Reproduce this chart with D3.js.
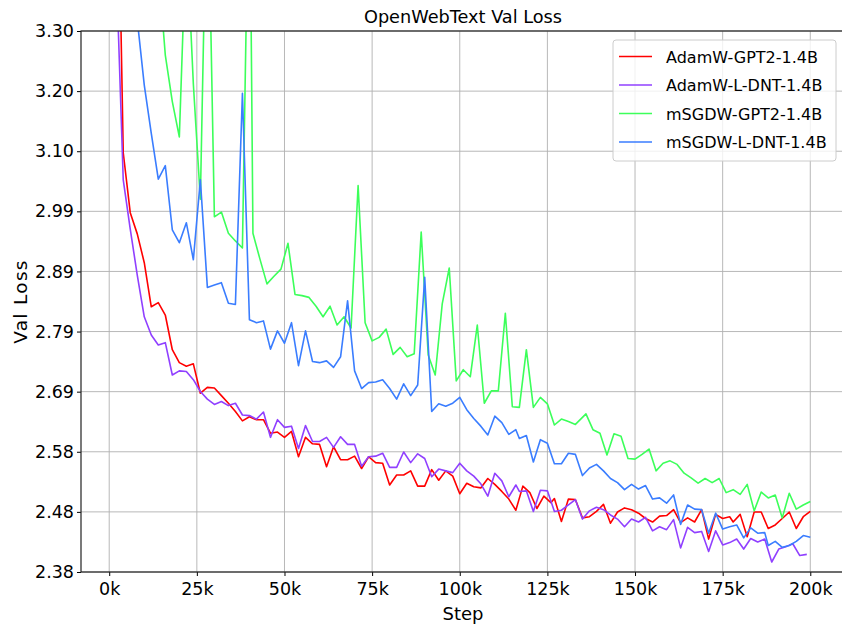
<!DOCTYPE html>
<html><head><meta charset="utf-8">
<script src="https://cdn.jsdelivr.net/npm/d3@7"></script>
<style>
body{margin:0;background:#fff;}
svg{display:block;font-family:"DejaVu Sans",sans-serif;}
</style>
</head><body>
<svg id="chart" width="842" height="627"></svg>
<script>
// ---------------- data ----------------
const seriesNames = ["AdamW-GPT2-1.4B", "AdamW-L-DNT-1.4B", "mSGDW-GPT2-1.4B", "mSGDW-L-DNT-1.4B"];
const seriesColors = ["#ff0000", "#9040ff", "#3cff5a", "#3a7dff"];
const xTicks = [0, 25, 50, 75, 100, 125, 150, 175, 200];           // steps in k
const yTickLabels = ["2.38","2.48","2.58","2.69","2.79","2.89","2.99","3.10","3.20","3.30"];
const yMin = 2.38, yMax = 3.30;

function stepRange(a, b, s) { return d3.range(a, b + 0.001, s); }

// AdamW-GPT2-1.4B (eval steps in k)
const redSteps = [].concat(stepRange(2, 126, 2), stepRange(127, 177, 2), stepRange(178, 200, 2));
const redLoss = [
  3.75, 3.093, 2.991, 2.955, 2.906, 2.831, 2.838, 2.817, 2.758, 2.736,
  2.730, 2.734, 2.684, 2.694, 2.693, 2.680, 2.667, 2.653, 2.637, 2.644,
  2.639, 2.639, 2.616, 2.618, 2.609, 2.619, 2.576, 2.609, 2.598, 2.597,
  2.559, 2.593, 2.571, 2.571, 2.577, 2.556, 2.576, 2.566, 2.565, 2.528,
  2.545, 2.545, 2.552, 2.526, 2.526, 2.554, 2.536, 2.552, 2.543, 2.513,
  2.531, 2.525, 2.523, 2.539, 2.529, 2.517, 2.504, 2.485, 2.526, 2.515,
  2.488, 2.509, 2.498,
  2.505, 2.466, 2.504, 2.503, 2.472, 2.474, 2.483, 2.495, 2.463, 2.482,
  2.489, 2.486, 2.480, 2.471, 2.465, 2.475, 2.476, 2.486, 2.464, 2.472,
  2.465, 2.486, 2.436, 2.478, 2.471, 2.474,
  2.465, 2.478, 2.440, 2.482, 2.482, 2.454, 2.460, 2.471, 2.482, 2.454, 2.474, 2.483
];

// AdamW-L-DNT-1.4B
const purpleSteps = [].concat(stepRange(2, 116, 2), stepRange(117, 199, 2));
const purpleLoss = [
  3.41, 3.047, 2.963, 2.885, 2.814, 2.783, 2.766, 2.770, 2.715, 2.722,
  2.721, 2.707, 2.687, 2.674, 2.665, 2.670, 2.663, 2.667, 2.647, 2.646,
  2.640, 2.652, 2.609, 2.639, 2.626, 2.628, 2.590, 2.629, 2.602, 2.602,
  2.609, 2.592, 2.610, 2.597, 2.597, 2.560, 2.576, 2.577, 2.582, 2.558,
  2.558, 2.584, 2.566, 2.581, 2.573, 2.542, 2.555, 2.552, 2.549, 2.565,
  2.552, 2.543, 2.530, 2.509, 2.548, 2.535, 2.508, 2.528,
  2.517, 2.518, 2.483, 2.519, 2.518, 2.483, 2.485, 2.494, 2.503, 2.470,
  2.484, 2.490, 2.486, 2.477, 2.470, 2.457, 2.470, 2.465, 2.473, 2.450,
  2.457, 2.452, 2.469, 2.421, 2.456, 2.447, 2.449, 2.415, 2.450, 2.426,
  2.430, 2.436, 2.419, 2.437, 2.431, 2.436, 2.397, 2.419, 2.423, 2.428,
  2.408, 2.410
];

// mSGDW-GPT2-1.4B
const greenSteps = [].concat(stepRange(10, 40, 2), stepRange(41, 133, 2), stepRange(136, 200, 2));
const greenLoss = [
  3.90, 3.65, 3.41, 3.259, 3.180, 3.120, 3.47, 3.21, 3.014, 3.62,
  2.984, 2.992, 2.956, 2.943, 2.931, 3.65,
  2.956, 2.912, 2.870, 2.883, 2.895, 2.939, 2.852, 2.850, 2.847, 2.832,
  2.814, 2.832, 2.800, 2.814, 2.795, 3.037, 2.804, 2.773, 2.779, 2.793,
  2.750, 2.762, 2.746, 2.751, 2.958, 2.749, 2.715, 2.836, 2.897, 2.705,
  2.724, 2.712, 2.800, 2.667, 2.688, 2.688, 2.820, 2.661, 2.660, 2.758,
  2.660, 2.677, 2.666, 2.630, 2.640, 2.636, 2.631,
  2.649, 2.622, 2.616, 2.579, 2.615, 2.611, 2.573, 2.572, 2.580, 2.589,
  2.552, 2.565, 2.569, 2.563, 2.548, 2.540, 2.531, 2.539, 2.532, 2.539,
  2.515, 2.520, 2.512, 2.529, 2.484, 2.516, 2.506, 2.511, 2.472, 2.514,
  2.487, 2.494, 2.500
];

// mSGDW-L-DNT-1.4B
const blueSteps = [].concat(stepRange(2, 116, 2), stepRange(117, 187, 2), stepRange(188, 200, 2));
const blueLoss = [
  3.95, 3.75, 3.55, 3.319, 3.208, 3.126, 3.048, 3.071, 2.962, 2.940,
  2.974, 2.911, 3.047, 2.864, 2.868, 2.872, 2.837, 2.835, 3.194, 2.809,
  2.804, 2.807, 2.759, 2.790, 2.769, 2.804, 2.731, 2.790, 2.738, 2.736,
  2.739, 2.728, 2.746, 2.841, 2.722, 2.692, 2.702, 2.703, 2.707, 2.692,
  2.674, 2.700, 2.680, 2.698, 2.881, 2.653, 2.666, 2.662, 2.667, 2.677,
  2.656, 2.641, 2.628, 2.613, 2.645, 2.634, 2.614, 2.622,
  2.607, 2.612, 2.567, 2.605, 2.599, 2.564, 2.564, 2.582, 2.580, 2.544,
  2.557, 2.563, 2.552, 2.539, 2.532, 2.520, 2.529, 2.521, 2.527, 2.504,
  2.506, 2.497, 2.511, 2.461, 2.494, 2.487, 2.486, 2.446, 2.480, 2.453,
  2.457, 2.460, 2.438, 2.455, 2.446, 2.447,
  2.425, 2.432, 2.422, 2.425, 2.432, 2.442, 2.439
];

const seriesSteps = [redSteps, purpleSteps, greenSteps, blueSteps];
const seriesLoss = [redLoss, purpleLoss, greenLoss, blueLoss];

// ---------------- layout ----------------
const plot = { left: 81, top: 31, right: 845, bottom: 572 };
const svg = d3.select("#chart");

const x = d3.scaleLinear().domain([-8.05, 209.9]).range([plot.left, plot.right]);
const y = d3.scaleLinear().domain([yMin, yMax]).range([plot.bottom, plot.top]);
const yTicks = yTickLabels.map((_, i) => yMin + i * (yMax - yMin) / (yTickLabels.length - 1));

// grid
const grid = svg.append("g").attr("stroke", "#b0b0b0").attr("stroke-width", 1).attr("stroke-opacity", 0.9);
grid.selectAll("line.v").data(xTicks).join("line")
  .attr("x1", d => x(d)).attr("x2", d => x(d))
  .attr("y1", plot.top).attr("y2", plot.bottom);
grid.selectAll("line.h").data(yTicks).join("line")
  .attr("x1", plot.left).attr("x2", plot.right)
  .attr("y1", d => y(d)).attr("y2", d => y(d));

// clip
svg.append("clipPath").attr("id", "clip").append("rect")
  .attr("x", plot.left).attr("y", plot.top)
  .attr("width", plot.right - plot.left).attr("height", plot.bottom - plot.top);

const line = d3.line().x(d => x(d[0])).y(d => y(d[1]));
const linesG = svg.append("g").attr("clip-path", "url(#clip)");
seriesNames.forEach((name, i) => {
  const pts = seriesSteps[i].map((s, j) => [s, seriesLoss[i][j]]).filter(p => p[1] !== undefined);
  linesG.append("path").datum(pts)
    .attr("fill", "none").attr("stroke", seriesColors[i])
    .attr("stroke-width", 1.6).attr("stroke-linejoin", "round")
    .attr("d", line);
});

// axes
const yAxis = svg.append("g").attr("transform", `translate(${plot.left},0)`)
  .call(d3.axisLeft(y).tickValues(yTicks).tickFormat((d, i) => yTickLabels[i]).tickSize(4).tickPadding(3));
const xAxis = svg.append("g").attr("transform", `translate(0,${plot.bottom})`)
  .call(d3.axisBottom(x).tickValues(xTicks).tickFormat(d => d + "k").tickSize(4).tickPadding(7));
[yAxis, xAxis].forEach(g => {
  g.select(".domain").remove();
  g.selectAll(".tick line").attr("stroke", "#000").attr("stroke-width", 1);
  g.selectAll(".tick text").attr("fill", "#000")
    .style("font-family", '"DejaVu Sans", sans-serif').style("font-size", "17.5px");
});

// spines
svg.append("rect").attr("x", plot.left).attr("y", plot.top)
  .attr("width", plot.right - plot.left).attr("height", plot.bottom - plot.top)
  .attr("fill", "none").attr("stroke", "#222").attr("stroke-width", 1.2);

// labels
svg.append("text").attr("x", (plot.left + plot.right) / 2).attr("y", 22.5)
  .attr("text-anchor", "middle").style("font-size", "17.7px").text("OpenWebText Val Loss");
svg.append("text").attr("x", (plot.left + plot.right) / 2).attr("y", 620)
  .attr("text-anchor", "middle").style("font-size", "18px").text("Step");
svg.append("text")
  .attr("transform", `translate(26.5,${(plot.top + plot.bottom) / 2}) rotate(-90)`)
  .attr("text-anchor", "middle").style("font-size", "18.5px").style("letter-spacing", "1.3px")
  .text("Val Loss");

// legend
const lg = svg.append("g");
lg.append("rect").attr("x", 613).attr("y", 40).attr("width", 223).attr("height", 121)
  .attr("rx", 3).attr("fill", "#fff").attr("fill-opacity", 0.8)
  .attr("stroke", "#cccccc").attr("stroke-width", 1);
seriesNames.forEach((name, i) => {
  const ly = 56.5 + i * 28.5;
  lg.append("line").attr("x1", 619).attr("x2", 652).attr("y1", ly).attr("y2", ly)
    .attr("stroke", seriesColors[i]).attr("stroke-width", 1.6);
  lg.append("text").attr("x", 666).attr("y", ly + 6).style("font-size", "16px").text(name);
});
</script>
</body></html>
